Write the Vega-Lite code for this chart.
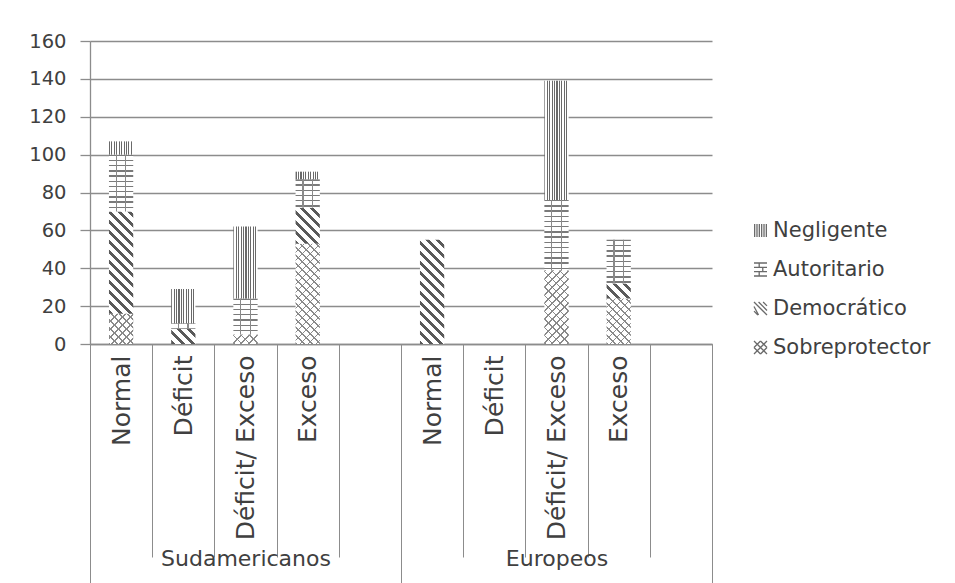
{
  "$schema": "https://vega.github.io/schema/vega-lite/v6.json",
  "autosize": "none",
  "width": 622,
  "height": 303,
  "padding": {"left": 90, "top": 41, "right": 243, "bottom": 239},
  "background": "#ffffff",
  "params": [
    {"name": "vStops", "value": [
      {"offset":0,"color":"#6a6a6a"},{"offset":0.045,"color":"#6a6a6a"},{"offset":0.045,"color":"#ffffff"},{"offset":0.1,"color":"#ffffff"},
      {"offset":0.1,"color":"#6a6a6a"},{"offset":0.145,"color":"#6a6a6a"},{"offset":0.145,"color":"#ffffff"},{"offset":0.2,"color":"#ffffff"},
      {"offset":0.2,"color":"#6a6a6a"},{"offset":0.245,"color":"#6a6a6a"},{"offset":0.245,"color":"#ffffff"},{"offset":0.3,"color":"#ffffff"},
      {"offset":0.3,"color":"#6a6a6a"},{"offset":0.345,"color":"#6a6a6a"},{"offset":0.345,"color":"#ffffff"},{"offset":0.4,"color":"#ffffff"},
      {"offset":0.4,"color":"#6a6a6a"},{"offset":0.445,"color":"#6a6a6a"},{"offset":0.445,"color":"#ffffff"},{"offset":0.5,"color":"#ffffff"},
      {"offset":0.5,"color":"#6a6a6a"},{"offset":0.545,"color":"#6a6a6a"},{"offset":0.545,"color":"#ffffff"},{"offset":0.6,"color":"#ffffff"},
      {"offset":0.6,"color":"#6a6a6a"},{"offset":0.645,"color":"#6a6a6a"},{"offset":0.645,"color":"#ffffff"},{"offset":0.7,"color":"#ffffff"},
      {"offset":0.7,"color":"#6a6a6a"},{"offset":0.745,"color":"#6a6a6a"},{"offset":0.745,"color":"#ffffff"},{"offset":0.8,"color":"#ffffff"},
      {"offset":0.8,"color":"#6a6a6a"},{"offset":0.845,"color":"#6a6a6a"},{"offset":0.845,"color":"#ffffff"},{"offset":0.9,"color":"#ffffff"},
      {"offset":0.9,"color":"#6a6a6a"},{"offset":0.945,"color":"#6a6a6a"},{"offset":0.945,"color":"#ffffff"},{"offset":1,"color":"#ffffff"}
    ]},
    {"name": "hStops", "value": [
      {"offset":0,"color":"#7a7a7a"},{"offset":0.0156,"color":"#7a7a7a"},{"offset":0.0156,"color":"#ffffff"},{"offset":0.0625,"color":"#ffffff"},
      {"offset":0.0625,"color":"#7a7a7a"},{"offset":0.0781,"color":"#7a7a7a"},{"offset":0.0781,"color":"#ffffff"},{"offset":0.125,"color":"#ffffff"},
      {"offset":0.125,"color":"#7a7a7a"},{"offset":0.1406,"color":"#7a7a7a"},{"offset":0.1406,"color":"#ffffff"},{"offset":0.1875,"color":"#ffffff"},
      {"offset":0.1875,"color":"#7a7a7a"},{"offset":0.2031,"color":"#7a7a7a"},{"offset":0.2031,"color":"#ffffff"},{"offset":0.25,"color":"#ffffff"},
      {"offset":0.25,"color":"#7a7a7a"},{"offset":0.2656,"color":"#7a7a7a"},{"offset":0.2656,"color":"#ffffff"},{"offset":0.3125,"color":"#ffffff"},
      {"offset":0.3125,"color":"#7a7a7a"},{"offset":0.3281,"color":"#7a7a7a"},{"offset":0.3281,"color":"#ffffff"},{"offset":0.375,"color":"#ffffff"},
      {"offset":0.375,"color":"#7a7a7a"},{"offset":0.3906,"color":"#7a7a7a"},{"offset":0.3906,"color":"#ffffff"},{"offset":0.4375,"color":"#ffffff"},
      {"offset":0.4375,"color":"#7a7a7a"},{"offset":0.4531,"color":"#7a7a7a"},{"offset":0.4531,"color":"#ffffff"},{"offset":0.5,"color":"#ffffff"},
      {"offset":0.5,"color":"#7a7a7a"},{"offset":0.5156,"color":"#7a7a7a"},{"offset":0.5156,"color":"#ffffff"},{"offset":0.5625,"color":"#ffffff"},
      {"offset":0.5625,"color":"#7a7a7a"},{"offset":0.5781,"color":"#7a7a7a"},{"offset":0.5781,"color":"#ffffff"},{"offset":0.625,"color":"#ffffff"},
      {"offset":0.625,"color":"#7a7a7a"},{"offset":0.6406,"color":"#7a7a7a"},{"offset":0.6406,"color":"#ffffff"},{"offset":0.6875,"color":"#ffffff"},
      {"offset":0.6875,"color":"#7a7a7a"},{"offset":0.7031,"color":"#7a7a7a"},{"offset":0.7031,"color":"#ffffff"},{"offset":0.75,"color":"#ffffff"},
      {"offset":0.75,"color":"#7a7a7a"},{"offset":0.7656,"color":"#7a7a7a"},{"offset":0.7656,"color":"#ffffff"},{"offset":0.8125,"color":"#ffffff"},
      {"offset":0.8125,"color":"#7a7a7a"},{"offset":0.8281,"color":"#7a7a7a"},{"offset":0.8281,"color":"#ffffff"},{"offset":0.875,"color":"#ffffff"},
      {"offset":0.875,"color":"#7a7a7a"},{"offset":0.8906,"color":"#7a7a7a"},{"offset":0.8906,"color":"#ffffff"},{"offset":0.9375,"color":"#ffffff"},
      {"offset":0.9375,"color":"#7a7a7a"},{"offset":0.9531,"color":"#7a7a7a"},{"offset":0.9531,"color":"#ffffff"},{"offset":1,"color":"#ffffff"}
    ]},
    {"name": "diagStops", "value": [
      {"offset":0,"color":"#5a5a5a"},{"offset":0.0286,"color":"#5a5a5a"},{"offset":0.0286,"color":"#ffffff"},{"offset":0.0714,"color":"#ffffff"},
      {"offset":0.0714,"color":"#5a5a5a"},{"offset":0.1,"color":"#5a5a5a"},{"offset":0.1,"color":"#ffffff"},{"offset":0.1429,"color":"#ffffff"},
      {"offset":0.1429,"color":"#5a5a5a"},{"offset":0.1714,"color":"#5a5a5a"},{"offset":0.1714,"color":"#ffffff"},{"offset":0.2143,"color":"#ffffff"},
      {"offset":0.2143,"color":"#5a5a5a"},{"offset":0.2429,"color":"#5a5a5a"},{"offset":0.2429,"color":"#ffffff"},{"offset":0.2857,"color":"#ffffff"},
      {"offset":0.2857,"color":"#5a5a5a"},{"offset":0.3143,"color":"#5a5a5a"},{"offset":0.3143,"color":"#ffffff"},{"offset":0.3571,"color":"#ffffff"},
      {"offset":0.3571,"color":"#5a5a5a"},{"offset":0.3857,"color":"#5a5a5a"},{"offset":0.3857,"color":"#ffffff"},{"offset":0.4286,"color":"#ffffff"},
      {"offset":0.4286,"color":"#5a5a5a"},{"offset":0.4571,"color":"#5a5a5a"},{"offset":0.4571,"color":"#ffffff"},{"offset":0.5,"color":"#ffffff"},
      {"offset":0.5,"color":"#5a5a5a"},{"offset":0.5286,"color":"#5a5a5a"},{"offset":0.5286,"color":"#ffffff"},{"offset":0.5714,"color":"#ffffff"},
      {"offset":0.5714,"color":"#5a5a5a"},{"offset":0.6,"color":"#5a5a5a"},{"offset":0.6,"color":"#ffffff"},{"offset":0.6429,"color":"#ffffff"},
      {"offset":0.6429,"color":"#5a5a5a"},{"offset":0.6714,"color":"#5a5a5a"},{"offset":0.6714,"color":"#ffffff"},{"offset":0.7143,"color":"#ffffff"},
      {"offset":0.7143,"color":"#5a5a5a"},{"offset":0.7429,"color":"#5a5a5a"},{"offset":0.7429,"color":"#ffffff"},{"offset":0.7857,"color":"#ffffff"},
      {"offset":0.7857,"color":"#5a5a5a"},{"offset":0.8143,"color":"#5a5a5a"},{"offset":0.8143,"color":"#ffffff"},{"offset":0.8571,"color":"#ffffff"},
      {"offset":0.8571,"color":"#5a5a5a"},{"offset":0.8857,"color":"#5a5a5a"},{"offset":0.8857,"color":"#ffffff"},{"offset":0.9286,"color":"#ffffff"},
      {"offset":0.9286,"color":"#5a5a5a"},{"offset":0.9571,"color":"#5a5a5a"},{"offset":0.9571,"color":"#ffffff"},{"offset":1,"color":"#ffffff"}
    ]},
    {"name": "hatchStops", "value": [
      {"offset":0,"color":"#8a8a8a"},{"offset":0.012,"color":"#8a8a8a"},{"offset":0.012,"color":"#ffffff"},{"offset":0.0588,"color":"#ffffff"},
      {"offset":0.0588,"color":"#8a8a8a"},{"offset":0.0708,"color":"#8a8a8a"},{"offset":0.0708,"color":"#ffffff"},{"offset":0.1176,"color":"#ffffff"},
      {"offset":0.1176,"color":"#8a8a8a"},{"offset":0.1296,"color":"#8a8a8a"},{"offset":0.1296,"color":"#ffffff"},{"offset":0.1765,"color":"#ffffff"},
      {"offset":0.1765,"color":"#8a8a8a"},{"offset":0.1885,"color":"#8a8a8a"},{"offset":0.1885,"color":"#ffffff"},{"offset":0.2353,"color":"#ffffff"},
      {"offset":0.2353,"color":"#8a8a8a"},{"offset":0.2473,"color":"#8a8a8a"},{"offset":0.2473,"color":"#ffffff"},{"offset":0.2941,"color":"#ffffff"},
      {"offset":0.2941,"color":"#8a8a8a"},{"offset":0.3061,"color":"#8a8a8a"},{"offset":0.3061,"color":"#ffffff"},{"offset":0.3529,"color":"#ffffff"},
      {"offset":0.3529,"color":"#8a8a8a"},{"offset":0.3649,"color":"#8a8a8a"},{"offset":0.3649,"color":"#ffffff"},{"offset":0.4118,"color":"#ffffff"},
      {"offset":0.4118,"color":"#8a8a8a"},{"offset":0.4238,"color":"#8a8a8a"},{"offset":0.4238,"color":"#ffffff"},{"offset":0.4706,"color":"#ffffff"},
      {"offset":0.4706,"color":"#8a8a8a"},{"offset":0.4826,"color":"#8a8a8a"},{"offset":0.4826,"color":"#ffffff"},{"offset":0.5294,"color":"#ffffff"},
      {"offset":0.5294,"color":"#8a8a8a"},{"offset":0.5414,"color":"#8a8a8a"},{"offset":0.5414,"color":"#ffffff"},{"offset":0.5882,"color":"#ffffff"},
      {"offset":0.5882,"color":"#8a8a8a"},{"offset":0.6002,"color":"#8a8a8a"},{"offset":0.6002,"color":"#ffffff"},{"offset":0.6471,"color":"#ffffff"},
      {"offset":0.6471,"color":"#8a8a8a"},{"offset":0.6591,"color":"#8a8a8a"},{"offset":0.6591,"color":"#ffffff"},{"offset":0.7059,"color":"#ffffff"},
      {"offset":0.7059,"color":"#8a8a8a"},{"offset":0.7179,"color":"#8a8a8a"},{"offset":0.7179,"color":"#ffffff"},{"offset":0.7647,"color":"#ffffff"},
      {"offset":0.7647,"color":"#8a8a8a"},{"offset":0.7767,"color":"#8a8a8a"},{"offset":0.7767,"color":"#ffffff"},{"offset":0.8235,"color":"#ffffff"},
      {"offset":0.8235,"color":"#8a8a8a"},{"offset":0.8355,"color":"#8a8a8a"},{"offset":0.8355,"color":"#ffffff"},{"offset":0.8824,"color":"#ffffff"},
      {"offset":0.8824,"color":"#8a8a8a"},{"offset":0.8944,"color":"#8a8a8a"},{"offset":0.8944,"color":"#ffffff"},{"offset":0.9412,"color":"#ffffff"},
      {"offset":0.9412,"color":"#8a8a8a"},{"offset":0.9532,"color":"#8a8a8a"},{"offset":0.9532,"color":"#ffffff"},{"offset":1,"color":"#ffffff"}
    ]},
    {"name": "hatchStopsT", "value": [
      {"offset":0,"color":"#8a8a8a"},{"offset":0.012,"color":"#8a8a8a"},{"offset":0.012,"color":"rgba(255,255,255,0)"},{"offset":0.0588,"color":"rgba(255,255,255,0)"},
      {"offset":0.0588,"color":"#8a8a8a"},{"offset":0.0708,"color":"#8a8a8a"},{"offset":0.0708,"color":"rgba(255,255,255,0)"},{"offset":0.1176,"color":"rgba(255,255,255,0)"},
      {"offset":0.1176,"color":"#8a8a8a"},{"offset":0.1296,"color":"#8a8a8a"},{"offset":0.1296,"color":"rgba(255,255,255,0)"},{"offset":0.1765,"color":"rgba(255,255,255,0)"},
      {"offset":0.1765,"color":"#8a8a8a"},{"offset":0.1885,"color":"#8a8a8a"},{"offset":0.1885,"color":"rgba(255,255,255,0)"},{"offset":0.2353,"color":"rgba(255,255,255,0)"},
      {"offset":0.2353,"color":"#8a8a8a"},{"offset":0.2473,"color":"#8a8a8a"},{"offset":0.2473,"color":"rgba(255,255,255,0)"},{"offset":0.2941,"color":"rgba(255,255,255,0)"},
      {"offset":0.2941,"color":"#8a8a8a"},{"offset":0.3061,"color":"#8a8a8a"},{"offset":0.3061,"color":"rgba(255,255,255,0)"},{"offset":0.3529,"color":"rgba(255,255,255,0)"},
      {"offset":0.3529,"color":"#8a8a8a"},{"offset":0.3649,"color":"#8a8a8a"},{"offset":0.3649,"color":"rgba(255,255,255,0)"},{"offset":0.4118,"color":"rgba(255,255,255,0)"},
      {"offset":0.4118,"color":"#8a8a8a"},{"offset":0.4238,"color":"#8a8a8a"},{"offset":0.4238,"color":"rgba(255,255,255,0)"},{"offset":0.4706,"color":"rgba(255,255,255,0)"},
      {"offset":0.4706,"color":"#8a8a8a"},{"offset":0.4826,"color":"#8a8a8a"},{"offset":0.4826,"color":"rgba(255,255,255,0)"},{"offset":0.5294,"color":"rgba(255,255,255,0)"},
      {"offset":0.5294,"color":"#8a8a8a"},{"offset":0.5414,"color":"#8a8a8a"},{"offset":0.5414,"color":"rgba(255,255,255,0)"},{"offset":0.5882,"color":"rgba(255,255,255,0)"},
      {"offset":0.5882,"color":"#8a8a8a"},{"offset":0.6002,"color":"#8a8a8a"},{"offset":0.6002,"color":"rgba(255,255,255,0)"},{"offset":0.6471,"color":"rgba(255,255,255,0)"},
      {"offset":0.6471,"color":"#8a8a8a"},{"offset":0.6591,"color":"#8a8a8a"},{"offset":0.6591,"color":"rgba(255,255,255,0)"},{"offset":0.7059,"color":"rgba(255,255,255,0)"},
      {"offset":0.7059,"color":"#8a8a8a"},{"offset":0.7179,"color":"#8a8a8a"},{"offset":0.7179,"color":"rgba(255,255,255,0)"},{"offset":0.7647,"color":"rgba(255,255,255,0)"},
      {"offset":0.7647,"color":"#8a8a8a"},{"offset":0.7767,"color":"#8a8a8a"},{"offset":0.7767,"color":"rgba(255,255,255,0)"},{"offset":0.8235,"color":"rgba(255,255,255,0)"},
      {"offset":0.8235,"color":"#8a8a8a"},{"offset":0.8355,"color":"#8a8a8a"},{"offset":0.8355,"color":"rgba(255,255,255,0)"},{"offset":0.8824,"color":"rgba(255,255,255,0)"},
      {"offset":0.8824,"color":"#8a8a8a"},{"offset":0.8944,"color":"#8a8a8a"},{"offset":0.8944,"color":"rgba(255,255,255,0)"},{"offset":0.9412,"color":"rgba(255,255,255,0)"},
      {"offset":0.9412,"color":"#8a8a8a"},{"offset":0.9532,"color":"#8a8a8a"},{"offset":0.9532,"color":"rgba(255,255,255,0)"},{"offset":1,"color":"rgba(255,255,255,0)"}
    ]}
  ],
  "data": {
    "values": [
      {"grupo": "Sudamericanos", "slot": "Sudamericanos|Normal", "series": "Sobreprotector", "n": 16},
      {"grupo": "Sudamericanos", "slot": "Sudamericanos|Normal", "series": "Democrático", "n": 54},
      {"grupo": "Sudamericanos", "slot": "Sudamericanos|Normal", "series": "Autoritario", "n": 30},
      {"grupo": "Sudamericanos", "slot": "Sudamericanos|Normal", "series": "Negligente", "n": 7},
      {"grupo": "Sudamericanos", "slot": "Sudamericanos|Déficit", "series": "Democrático", "n": 8},
      {"grupo": "Sudamericanos", "slot": "Sudamericanos|Déficit", "series": "Autoritario", "n": 3},
      {"grupo": "Sudamericanos", "slot": "Sudamericanos|Déficit", "series": "Negligente", "n": 18},
      {"grupo": "Sudamericanos", "slot": "Sudamericanos|Déficit/ Exceso", "series": "Sobreprotector", "n": 5},
      {"grupo": "Sudamericanos", "slot": "Sudamericanos|Déficit/ Exceso", "series": "Autoritario", "n": 19},
      {"grupo": "Sudamericanos", "slot": "Sudamericanos|Déficit/ Exceso", "series": "Negligente", "n": 38},
      {"grupo": "Sudamericanos", "slot": "Sudamericanos|Exceso", "series": "Sobreprotector", "n": 53},
      {"grupo": "Sudamericanos", "slot": "Sudamericanos|Exceso", "series": "Democrático", "n": 19},
      {"grupo": "Sudamericanos", "slot": "Sudamericanos|Exceso", "series": "Autoritario", "n": 15},
      {"grupo": "Sudamericanos", "slot": "Sudamericanos|Exceso", "series": "Negligente", "n": 4},
      {"grupo": "Europeos", "slot": "Europeos|Normal", "series": "Democrático", "n": 55},
      {"grupo": "Europeos", "slot": "Europeos|Déficit/ Exceso", "series": "Sobreprotector", "n": 39},
      {"grupo": "Europeos", "slot": "Europeos|Déficit/ Exceso", "series": "Autoritario", "n": 37},
      {"grupo": "Europeos", "slot": "Europeos|Déficit/ Exceso", "series": "Negligente", "n": 63},
      {"grupo": "Europeos", "slot": "Europeos|Exceso", "series": "Sobreprotector", "n": 24},
      {"grupo": "Europeos", "slot": "Europeos|Exceso", "series": "Democrático", "n": 8},
      {"grupo": "Europeos", "slot": "Europeos|Exceso", "series": "Autoritario", "n": 23}
    ]
  },
  "transform": [
    {"stack": "n", "groupby": ["slot"], "as": ["v0", "v1"]}
  ],
  "layer": [
    {
      "mark": {"type": "bar", "width": {"band": 0.39}, "fill": {"expr": "datum.series === 'Negligente' ? {gradient: 'linear', x1: 0, y1: 0, x2: 1, y2: 0, stops: vStops} : datum.series === 'Autoritario' ? {gradient: 'linear', x1: 0, y1: 0, x2: 0.000001, y2: 83.2 / ((datum.v1 - datum.v0) * 1.894), stops: hStops} : datum.series === 'Democrático' ? {gradient: 'linear', x1: 0, y1: 1, x2: 24.26 * 140 / (588.5 + pow((datum.v1 - datum.v0) * 1.894, 2)), y2: 1 - (datum.v1 - datum.v0) * 1.894 * 140 / (588.5 + pow((datum.v1 - datum.v0) * 1.894, 2)), stops: diagStops} : {gradient: 'linear', x1: 0, y1: 1, x2: 24.26 * 136 / (588.5 + pow((datum.v1 - datum.v0) * 1.894, 2)), y2: 1 - (datum.v1 - datum.v0) * 1.894 * 136 / (588.5 + pow((datum.v1 - datum.v0) * 1.894, 2)), stops: hatchStops}"}},
      "encoding": {
        "x": {
          "field": "slot", "type": "nominal", "sort": null,
          "scale": {"domain": ["Sudamericanos|Normal", "Sudamericanos|Déficit", "Sudamericanos|Déficit/ Exceso", "Sudamericanos|Exceso", "Sudamericanos|", "Europeos|Normal", "Europeos|Déficit", "Europeos|Déficit/ Exceso", "Europeos|Exceso", "Europeos|"], "paddingInner": 0, "paddingOuter": 0},
          "axis": {
            "orient": "bottom", "title": null, "tickBand": "extent", "tickSize": 213, "tickColor": "#8c8c8c", "tickWidth": 1,
            "domain": true, "domainColor": "#8c8c8c", "domainWidth": 1.3,
            "labelAngle": 270, "labelFontSize": 25, "labelPadding": -202, "labelColor": "#404040",
            "labelOverlap": false, "labelBound": false, "labelFlush": false, "labelLimit": 400,
            "labelExpr": "split(datum.label, '|')[1]", "grid": false
          }
        },
        "y": {
          "field": "v1", "type": "quantitative",
          "scale": {"domain": [0, 160], "nice": false},
          "axis": {
            "title": null, "values": [0, 20, 40, 60, 80, 100, 120, 140, 160],
            "grid": true, "gridColor": "#8c8c8c", "gridWidth": 1.3,
            "domain": true, "domainColor": "#8c8c8c", "domainWidth": 1.3,
            "ticks": true, "tickSize": 10, "tickColor": "#8c8c8c", "tickWidth": 1.3,
            "labelFontSize": 19.5, "labelPadding": 14, "labelColor": "#404040", "labelOverlap": false
          }
        },
        "y2": {"field": "v0"}
      }
    },
    {
      "transform": [{"filter": "datum.series === 'Sobreprotector'"}],
      "mark": {"type": "bar", "width": {"band": 0.39}, "fill": {"expr": "{gradient: 'linear', x1: 0, y1: 0, x2: 24.26 * 136 / (588.5 + pow((datum.v1 - datum.v0) * 1.894, 2)), y2: (datum.v1 - datum.v0) * 1.894 * 136 / (588.5 + pow((datum.v1 - datum.v0) * 1.894, 2)), stops: hatchStopsT}"}},
      "encoding": {
        "x": {
          "field": "slot", "type": "nominal", "sort": null,
          "scale": {"domain": ["Sudamericanos|Normal", "Sudamericanos|Déficit", "Sudamericanos|Déficit/ Exceso", "Sudamericanos|Exceso", "Sudamericanos|", "Europeos|Normal", "Europeos|Déficit", "Europeos|Déficit/ Exceso", "Europeos|Exceso", "Europeos|"], "paddingInner": 0, "paddingOuter": 0},
          "axis": null
        },
        "y": {
          "field": "v1", "type": "quantitative", "scale": {"domain": [0, 160], "nice": false},
          "axis": {
            "title": null, "values": [0, 20, 40, 60, 80, 100, 120, 140, 160],
            "grid": true, "gridColor": "#8c8c8c", "gridWidth": 1.3,
            "domain": true, "domainColor": "#8c8c8c", "domainWidth": 1.3,
            "ticks": true, "tickSize": 10, "tickColor": "#8c8c8c", "tickWidth": 1.3,
            "labelFontSize": 19.5, "labelPadding": 14, "labelColor": "#404040", "labelOverlap": false
          }
        },
        "y2": {"field": "v0"}
      }
    },
    {
      "transform": [{"filter": "datum.series === 'Autoritario'"}],
      "mark": {"type": "bar", "width": {"band": 0.39}, "fill": {"gradient": "linear", "x1": 0, "y1": 0, "x2": 1, "y2": 0, "stops": [
        {"offset": 0, "color": "rgba(255,255,255,0)"}, {"offset": 0.28, "color": "rgba(255,255,255,0)"},
        {"offset": 0.28, "color": "#8a8a8a"}, {"offset": 0.33, "color": "#8a8a8a"},
        {"offset": 0.33, "color": "rgba(255,255,255,0)"}, {"offset": 0.67, "color": "rgba(255,255,255,0)"},
        {"offset": 0.67, "color": "#8a8a8a"}, {"offset": 0.72, "color": "#8a8a8a"},
        {"offset": 0.72, "color": "rgba(255,255,255,0)"}, {"offset": 1, "color": "rgba(255,255,255,0)"}
      ]}},
      "encoding": {
        "x": {
          "field": "slot", "type": "nominal", "sort": null,
          "scale": {"domain": ["Sudamericanos|Normal", "Sudamericanos|Déficit", "Sudamericanos|Déficit/ Exceso", "Sudamericanos|Exceso", "Sudamericanos|", "Europeos|Normal", "Europeos|Déficit", "Europeos|Déficit/ Exceso", "Europeos|Exceso", "Europeos|"], "paddingInner": 0, "paddingOuter": 0},
          "axis": null
        },
        "y": {
          "field": "v1", "type": "quantitative", "scale": {"domain": [0, 160], "nice": false},
          "axis": {
            "title": null, "values": [0, 20, 40, 60, 80, 100, 120, 140, 160],
            "grid": true, "gridColor": "#8c8c8c", "gridWidth": 1.3,
            "domain": true, "domainColor": "#8c8c8c", "domainWidth": 1.3,
            "ticks": true, "tickSize": 10, "tickColor": "#8c8c8c", "tickWidth": 1.3,
            "labelFontSize": 19.5, "labelPadding": 14, "labelColor": "#404040", "labelOverlap": false
          }
        },
        "y2": {"field": "v0"}
      }
    },
    {
      "mark": {"type": "bar", "opacity": 0},
      "encoding": {
        "x": {
          "field": "grupo", "type": "nominal", "sort": null,
          "scale": {"domain": ["Sudamericanos", "Europeos"], "paddingInner": 0, "paddingOuter": 0},
          "axis": {
            "orient": "bottom", "title": null, "tickBand": "extent", "tickSize": 239, "tickColor": "#8c8c8c", "tickWidth": 1,
            "domain": false, "labelAngle": 0, "labelFontSize": 22, "labelPadding": -35, "labelBaseline": "top",
            "labelColor": "#404040", "labelOverlap": false, "labelBound": false, "labelFlush": false, "grid": false
          }
        }
      }
    },
    {
      "mark": {"type": "point", "opacity": 0, "filled": false, "color": "#6a6a6a", "strokeWidth": 1.3},
      "encoding": {
        "shape": {
          "field": "series", "type": "nominal",
          "scale": {
            "domain": ["Negligente", "Autoritario", "Democrático", "Sobreprotector"],
            "range": [
              "M-0.9,-1V1M-0.54,-1V1M-0.18,-1V1M0.18,-1V1M0.54,-1V1M0.9,-1V1",
              "M-1,-1H1M-1,-0.33H1M-1,0.33H1M-1,1H1M-0.2,-1V-0.33M0.35,-0.33V0.33M-0.2,0.33V1",
              "M-1,-1L1,1M-1,-0.3L-0.3,1M-0.3,-1L1,0.3M-1,0.4L-0.4,1M0.4,-1L1,-0.4",
              "M-1,-1L1,1M-1,1L1,-1M-1,0L0,1M0,-1L1,0M-1,0L0,-1M0,1L1,0"
            ]
          },
          "legend": {
            "orient": "none", "legendX": 660, "legendY": 179, "title": null,
            "symbolSize": 169, "symbolOpacity": 1, "symbolStrokeColor": "#6a6a6a", "symbolStrokeWidth": 1.3, "symbolFillColor": "transparent",
            "labelFontSize": 21, "labelColor": "#404040", "labelOffset": 2, "rowPadding": 17
          }
        }
      }
    }
  ],
  "resolve": {"scale": {"x": "independent"}, "axis": {"x": "independent"}},
  "config": {
    "font": "DejaVu Sans",
    "view": {"stroke": null},
    "axis": {"labelFont": "DejaVu Sans"},
    "legend": {"labelFont": "DejaVu Sans"}
  }
}
